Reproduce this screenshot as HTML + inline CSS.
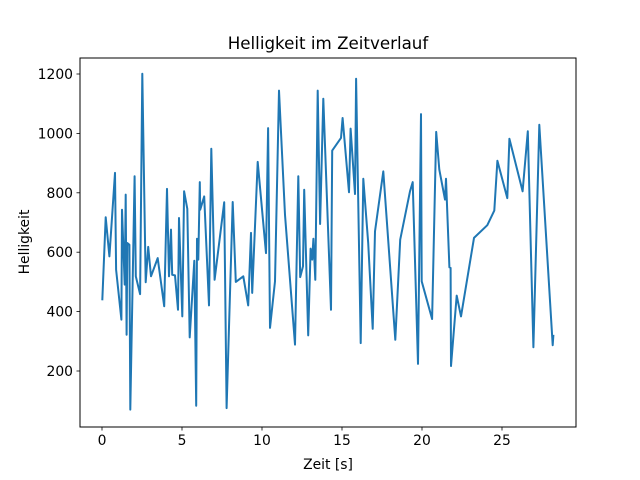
<!DOCTYPE html>
<html><head><meta charset="utf-8"><style>body{margin:0;background:#fff}svg{display:block;font-family:"DejaVu Sans","Liberation Sans",sans-serif}</style></head>
<body>
<svg id="chart" width="640" height="480">
<rect width="640" height="480" fill="#fff"/>
<text x="328" y="49" text-anchor="middle" font-size="16.7">Helligkeit im Zeitverlauf</text>
<text x="328" y="469" text-anchor="middle" font-size="13.9">Zeit [s]</text>
<text transform="translate(29,242) rotate(-90)" text-anchor="middle" font-size="13.9">Helligkeit</text>
<g id="ticks"></g>
<path id="line" fill="none" stroke="#1f77b4" stroke-width="2" stroke-linejoin="round"/>
<rect x="80" y="58" width="496" height="369" fill="none" stroke="#000" stroke-width="1"/>
</svg>
<script>
const times=[0.02,0.23,0.46,0.81,0.88,1.21,1.25,1.42,1.48,1.54,1.58,1.71,1.77,2.04,2.11,2.38,2.52,2.73,2.89,3.06,3.48,3.89,4.06,4.19,4.31,4.39,4.56,4.75,4.81,5.02,5.13,5.33,5.48,5.77,5.89,5.94,6.02,6.11,6.14,6.39,6.69,6.83,7.04,7.64,7.79,8.17,8.36,8.83,9.14,9.31,9.39,9.73,10.25,10.38,10.5,10.81,11.06,11.44,12.06,12.27,12.39,12.56,12.64,12.89,13.04,13.14,13.21,13.33,13.48,13.63,13.83,14.31,14.39,14.94,15.04,15.44,15.54,15.81,15.88,16.17,16.33,16.64,16.92,17.06,17.58,18.33,18.64,19.25,19.42,19.75,19.94,19.98,20.63,20.89,21.08,21.44,21.5,21.71,21.79,21.81,22.17,22.44,23.25,24.08,24.52,24.71,25.33,25.46,26.29,26.61,26.96,27.33,28.17,28.21];
const brightness=[438,718,586,867,541,373,743,491,794,322,631,625,70,856,519,459,1201,499,618,519,580,418,813,519,676,524,522,406,715,384,805,746,313,571,83,645,575,836,743,788,421,948,507,768,75,769,500,519,421,665,463,904,597,1018,345,502,1144,726,289,856,516,553,810,320,612,575,645,507,1144,695,1117,406,942,985,1052,802,1016,796,1184,294,847,631,342,670,872,305,642,805,836,224,1065,502,375,1005,878,777,847,549,547,217,454,384,648,691,740,908,782,982,805,1007,280,1029,287,322];
const xTicks=[0,5,10,15,20,25];
const yTicks=[200,400,600,800,1000,1200];
const xs=t=>102+t*16;
const ys=v=>371-(v-200)*0.297;
const NS="http://www.w3.org/2000/svg";
const g=document.getElementById('ticks');
function mk(tag,a){const e=document.createElementNS(NS,tag);for(const k in a)e.setAttribute(k,a[k]);g.appendChild(e);return e;}
xTicks.forEach(t=>{
  const l=mk('line',{x1:xs(t),x2:xs(t),y1:427,y2:430.5,stroke:'#000','stroke-width':0.8});
  
  
  const tx=mk('text',{x:xs(t),y:445,'text-anchor':'middle','font-size':13.9});
  tx.textContent=t;
  
  
});
yTicks.forEach(v=>{
  const l=mk('line',{x1:76.5,x2:80,y1:ys(v),y2:ys(v),stroke:'#000','stroke-width':0.8});
  
  
  const tx=mk('text',{x:73,y:ys(v)+5,'text-anchor':'end','font-size':13.9});
  tx.textContent=v;
  
  
});
document.getElementById('line').setAttribute('d',times.map((t,i)=>(i?'L':'M')+xs(t).toFixed(1)+','+ys(brightness[i]).toFixed(1)).join(''));
</script>
</body></html>
